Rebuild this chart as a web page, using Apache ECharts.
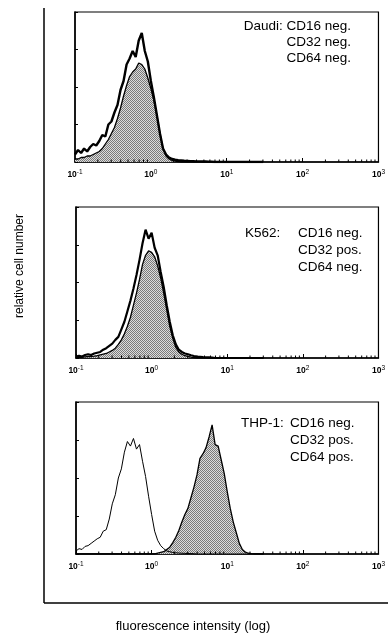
<!DOCTYPE html>
<html><head><meta charset="utf-8">
<script src="https://cdn.jsdelivr.net/npm/echarts@6/dist/echarts.min.js"></script>
<style>html,body{margin:0;padding:0;background:#fff}#c{width:388px;height:638px}</style>
</head><body><div id="c"></div>
<script>
// channel positions (log10 of fluorescence intensity)
const channelsLog = [-1.00,-0.96,-0.92,-0.88,-0.84,-0.80,-0.76,-0.72,-0.68,-0.64,-0.60,-0.56,-0.52,-0.48,-0.44,-0.40,-0.36,-0.32,-0.28,-0.24,-0.20,-0.16,-0.12,-0.08,-0.04,
  0.00,0.04,0.08,0.12,0.16,0.20,0.24,0.28,0.32,0.36,0.40,0.44,0.48,0.52,0.56,0.60,0.64,0.68,0.72,0.76,0.80,0.84,0.88,0.92,0.96,1.00,1.04,1.08,1.12,1.16,1.20,1.24,1.28,1.32,1.36,1.40,1.44,1.48];

const daudiControl = [5,8,6,9,7,10,12,11,14,18,17,25,27,33,38,48,54,65,69,74,70,81,86,74,67,
  54,43,31,19,9,5,3,2,1.5,1.2,1,0.8,0.7,0.6,0.5,0.4,0.4,0.3,0.3,0.2,0.2,
  0,0,0,0,0,0,0,0,0,0,0,0,0,0,0,0,0];
const daudiStained = [2,2,3,3,4,4,5,6,7,9,12,15,19,23,29,36,44,51,57,60,62,66,65,62,56,
  49,41,31,19,9,4,2,1,0.6,0.3,
  0,0,0,0,0,0,0,0,0,0,0,0,0,0,0,0,0,0,0,0,0,0,0,0,0,0,0,0];

const k562Control = [1,1.5,1,2,2.5,2,3,3.5,4,5.5,6.5,8,9.5,12,14,19,24,31,38,46,55,65,76,85,79,
  83,73,68,57,47,35,24,15,9,5.5,4,3,2.5,1.8,1.3,1,0.8,0.6,0.5,0.4,0.3,
  0,0,0,0,0,0,0,0,0,0,0,0,0,0,0,0,0];
const k562Stained = [0.5,0.5,0.5,0.8,1,1,1.2,1.5,2,2.5,3,4,5,6.5,9,12,16,21,27,35,43,52,62,68,71,
  70,67,61,53,43,32,21,13,7,4,2.5,1.5,1,0.6,0.3,
  0,0,0,0,0,0,0,0,0,0,0,0,0,0,0,0,0,0,0,0,0,0,0];

const thp1Control = [2,3.5,3,5,5.5,7,8.5,10,11,15,16,23,33,39,50,56,67,74,71,76,69,72,61,51,38,
  26,15,9,5.5,3.5,2,1.5,1,0.8,0.6,0.5,0.4,0.3,0.3,0.2,
  0,0,0,0,0,0,0,0,0,0,0,0,0,0,0,0,0,0,0,0,0,0,0];
const thp1Stained = [0,0,0,0,0,0,0,0,0,0,0,0,0,0,0,0,0,0,0,0,0,0,0,0,0,
  0,0,0.5,1,1.5,3,4.5,7.5,11,15.5,21,26,30,37,44,52,63,66,70,77,85,72,71,62,53,41,30,21,14,7,3,1.2,0.5,0.2,
  0,0,0,0];

const xTickValues = [0.1, 1, 10, 100, 1000];
const minorTickValues = [0.2,0.3,0.4,0.5,0.6,0.7,0.8,0.9,2,3,4,5,6,7,8,9,20,30,40,50,60,70,80,90,200,300,400,500,600,700,800,900];

const panelCellLines = ['Daudi:', 'K562:', 'THP-1:'];
const panelMarkerLines = [
  ['CD16 neg.', 'CD32 neg.', 'CD64 neg.'],
  ['CD16 neg.', 'CD32 pos.', 'CD64 neg.'],
  ['CD16 neg.', 'CD32 pos.', 'CD64 pos.']
];
const xAxisTitle = 'fluorescence intensity (log)';
const yAxisTitle = 'relative cell number';

const FONT = '"Liberation Sans", Arial, sans-serif';
const grids = [
  {left: 75, top: 12, width: 305, height: 150},
  {left: 76, top: 207, width: 304, height: 151},
  {left: 76, top: 402, width: 304, height: 152}
];
const controls = [daudiControl, k562Control, thp1Control];
const stained = [daudiStained, k562Stained, thp1Stained];
const controlWidths = [2.4, 2.2, 1];

function pattern() {
  const c = document.createElement('canvas');
  c.width = 2; c.height = 2;
  const g = c.getContext('2d');
  g.fillStyle = '#dcdcdc'; g.fillRect(0, 0, 2, 2);
  g.fillStyle = '#7a7a7a'; g.fillRect(0, 0, 1, 1); g.fillRect(1, 1, 1, 1);
  return {image: c, repeat: 'repeat'};
}
const fillPattern = pattern();

const xAxes = [], yAxes = [], series = [];
grids.forEach((g, i) => {
  xAxes.push({
    type: 'log', logBase: 10, gridIndex: i, min: 0.1, max: 1000,
    axisLine: {show: true, lineStyle: {color: '#000', width: 1.5}},
    axisTick: {show: true, inside: true, length: 4, lineStyle: {color: '#000', width: 1}},
    splitLine: {show: false},
    axisLabel: {
      show: true, margin: 7, showMinLabel: true, showMaxLabel: true,
      formatter: v => '{b|10}{s|' + Math.round(Math.log10(v)) + '}',
      rich: {
        b: {fontSize: 8.5, fontFamily: FONT, color: '#000', fontWeight: 'bold'},
        s: {fontSize: 6.5, fontFamily: FONT, color: '#000', padding: [0, 0, 4, 0]}
      }
    }
  });
  yAxes.push({
    type: 'value', gridIndex: i, min: 0, max: 100, interval: 25,
    axisLine: {show: true, lineStyle: {color: '#000', width: 1.5}},
    axisTick: {show: true, inside: true, length: 3, lineStyle: {color: '#000'}},
    axisLabel: {show: false}, splitLine: {show: false}
  });
  series.push({
    type: 'line', xAxisIndex: i, yAxisIndex: i, symbol: 'none', silent: true,
    data: channelsLog.map((l, k) => [Math.pow(10, l), stained[i][k]]),
    lineStyle: {color: '#000', width: 1.3},
    areaStyle: {color: fillPattern, opacity: 1},
    z: 2
  });
  series.push({
    type: 'line', xAxisIndex: i, yAxisIndex: i, symbol: 'none', silent: true,
    data: channelsLog.map((l, k) => [Math.pow(10, l), controls[i][k]]),
    lineStyle: {color: '#000', width: controlWidths[i]},
    z: 3
  });
  series.push({
    type: 'custom', xAxisIndex: i, yAxisIndex: i, silent: true, z: 5,
    data: minorTickValues.map(v => [v, 0]),
    renderItem: (params, api) => {
      const p = api.coord([api.value(0), 0]);
      return {type: 'line', shape: {x1: p[0], y1: p[1], x2: p[0], y2: p[1] - 2.5},
        style: {stroke: '#000', lineWidth: 1}};
    }
  });
});

const graphic = [
  {type: 'line', shape: {x1: 44, y1: 8, x2: 44, y2: 603}, style: {stroke: '#000', lineWidth: 1.5}},
  {type: 'line', shape: {x1: 44, y1: 603, x2: 388, y2: 603}, style: {stroke: '#000', lineWidth: 1.5}},
  {type: 'text', x: 193, y: 626, style: {text: xAxisTitle, font: '13px ' + FONT, fill: '#000', textAlign: 'center', textVerticalAlign: 'middle'}},
  {type: 'text', x: 20, y: 266, rotation: Math.PI / 2, style: {text: yAxisTitle, font: '12px ' + FONT, fill: '#000', textAlign: 'center', textVerticalAlign: 'middle'}}
];
const txt = (x, y, s, align) => ({type: 'text', x, y, style: {text: s, font: '13.5px ' + FONT, fill: '#000', textAlign: align, textVerticalAlign: 'middle'}});
// panel 1: right-aligned block
graphic.push(txt(351, 26, panelCellLines[0] + ' ' + panelMarkerLines[0][0], 'right'));
graphic.push(txt(351, 42, panelMarkerLines[0][1], 'right'));
graphic.push(txt(351, 58, panelMarkerLines[0][2], 'right'));
// panel 2
graphic.push(txt(245, 233, panelCellLines[1], 'left'));
panelMarkerLines[1].forEach((s, k) => graphic.push(txt(298, 233 + 17 * k, s, 'left')));
// panel 3
graphic.push(txt(241, 423, panelCellLines[2], 'left'));
panelMarkerLines[2].forEach((s, k) => graphic.push(txt(290, 423 + 17 * k, s, 'left')));

const chart = echarts.init(document.getElementById('c'), null, {renderer: 'canvas'});
chart.setOption({
  animation: false,
  backgroundColor: '#fff',
  grid: grids.map(g => Object.assign({show: true, borderColor: '#000', borderWidth: 1.2, backgroundColor: 'transparent'}, g)),
  xAxis: xAxes, yAxis: yAxes, series, graphic
});
</script></body></html>
